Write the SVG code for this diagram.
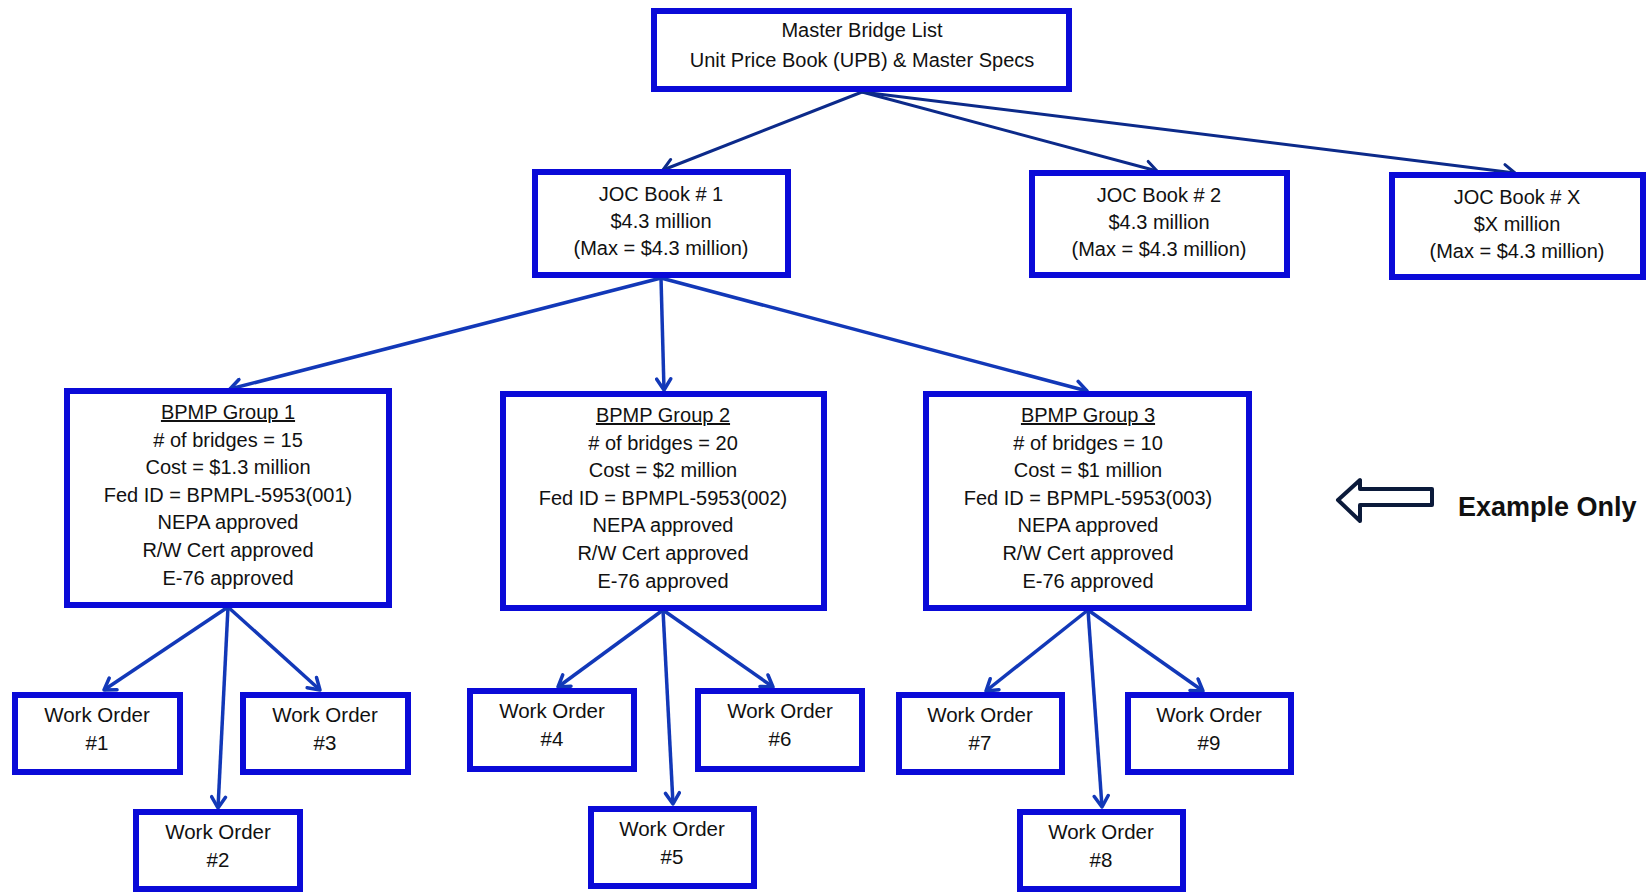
<svg xmlns="http://www.w3.org/2000/svg" width="1648" height="892" viewBox="0 0 1648 892">
<style>
.box{fill:#ffffff;stroke:#0a0ad8;stroke-width:6}
.t{font-family:"Liberation Sans",Arial,sans-serif;font-size:20px;fill:#111111;text-anchor:middle}
.wo{font-family:"Liberation Sans",Arial,sans-serif;font-size:20.5px;fill:#111111;text-anchor:middle}
.c1{fill:none;stroke:#0c2a8a;stroke-width:3;marker-end:url(#a1)}
.c2{fill:none;stroke:#1238b8;stroke-width:3.5;marker-end:url(#a2)}
</style>
<defs>
<marker id="a1" markerUnits="userSpaceOnUse" markerWidth="18" markerHeight="18" viewBox="0 0 18 18" refX="14" refY="9" orient="auto">
<path d="M3,2 L14,9 L3,16" fill="none" stroke="#0c2a8a" stroke-width="3" stroke-linecap="round" stroke-linejoin="round"/>
</marker>
<marker id="a2" markerUnits="userSpaceOnUse" markerWidth="18" markerHeight="18" viewBox="0 0 18 18" refX="14" refY="9" orient="auto">
<path d="M3,2 L14,9 L3,16" fill="none" stroke="#1238b8" stroke-width="3.5" stroke-linecap="round" stroke-linejoin="round"/>
</marker>
</defs>
<rect width="1648" height="892" fill="#ffffff"/>

<g id="connectors">
<path class="c1" d="M862,92 L663,170"/>
<path class="c1" d="M862,92 L1157,171"/>
<path class="c1" d="M862,92 L1515,173"/>
<path class="c2" d="M661,278 L230,389"/>
<path class="c2" d="M661,278 L664,390"/>
<path class="c2" d="M661,278 L1087,391"/>
<path class="c2" d="M228,607 L104,690"/>
<path class="c2" d="M228,607 L218,808"/>
<path class="c2" d="M228,607 L320,690"/>
<path class="c2" d="M663,610 L558,687"/>
<path class="c2" d="M663,610 L673,804"/>
<path class="c2" d="M663,610 L773,687"/>
<path class="c2" d="M1088,610 L986,691"/>
<path class="c2" d="M1088,610 L1102,807"/>
<path class="c2" d="M1088,610 L1203,691"/>
</g>

<g id="master">
<rect class="box" x="654" y="11" width="415" height="78"/>
<text class="t" x="862" y="37">Master Bridge List</text>
<text class="t" x="862" y="67">Unit Price Book (UPB) &amp; Master Specs</text>
</g>

<g id="joc1">
<rect class="box" x="535" y="172" width="253" height="103"/>
<text class="t" x="661" y="201">JOC Book # 1</text>
<text class="t" x="661" y="228">$4.3 million</text>
<text class="t" x="661" y="255">(Max = $4.3 million)</text>
</g>

<g id="joc2">
<rect class="box" x="1032" y="173" width="255" height="102"/>
<text class="t" x="1159" y="202">JOC Book # 2</text>
<text class="t" x="1159" y="229">$4.3 million</text>
<text class="t" x="1159" y="256">(Max = $4.3 million)</text>
</g>

<g id="jocx">
<rect class="box" x="1392" y="175" width="251" height="102"/>
<text class="t" x="1517" y="204">JOC Book # X</text>
<text class="t" x="1517" y="231">$X million</text>
<text class="t" x="1517" y="258">(Max = $4.3 million)</text>
</g>

<g id="bpmp1">
<rect class="box" x="67" y="391" width="322" height="214"/>
<text class="t" x="228" y="419" text-decoration="underline">BPMP Group 1</text>
<text class="t" x="228" y="447"># of bridges = 15</text>
<text class="t" x="228" y="474">Cost = $1.3 million</text>
<text class="t" x="228" y="502">Fed ID = BPMPL-5953(001)</text>
<text class="t" x="228" y="529">NEPA approved</text>
<text class="t" x="228" y="557">R/W Cert approved</text>
<text class="t" x="228" y="585">E-76 approved</text>
</g>

<g id="bpmp2">
<rect class="box" x="503" y="394" width="321" height="214"/>
<text class="t" x="663" y="422" text-decoration="underline">BPMP Group 2</text>
<text class="t" x="663" y="450"># of bridges = 20</text>
<text class="t" x="663" y="477">Cost = $2 million</text>
<text class="t" x="663" y="505">Fed ID = BPMPL-5953(002)</text>
<text class="t" x="663" y="532">NEPA approved</text>
<text class="t" x="663" y="560">R/W Cert approved</text>
<text class="t" x="663" y="588">E-76 approved</text>
</g>

<g id="bpmp3">
<rect class="box" x="926" y="394" width="323" height="214"/>
<text class="t" x="1088" y="422" text-decoration="underline">BPMP Group 3</text>
<text class="t" x="1088" y="450"># of bridges = 10</text>
<text class="t" x="1088" y="477">Cost = $1 million</text>
<text class="t" x="1088" y="505">Fed ID = BPMPL-5953(003)</text>
<text class="t" x="1088" y="532">NEPA approved</text>
<text class="t" x="1088" y="560">R/W Cert approved</text>
<text class="t" x="1088" y="588">E-76 approved</text>
</g>

<g id="wo1">
<rect class="box" x="15" y="695" width="165" height="77"/>
<text class="wo" x="97" y="722">Work Order</text>
<text class="wo" x="97" y="750">#1</text>
</g>
<g id="wo2">
<rect class="box" x="136" y="812" width="164" height="77"/>
<text class="wo" x="218" y="839">Work Order</text>
<text class="wo" x="218" y="867">#2</text>
</g>
<g id="wo3">
<rect class="box" x="243" y="695" width="165" height="77"/>
<text class="wo" x="325" y="722">Work Order</text>
<text class="wo" x="325" y="750">#3</text>
</g>
<g id="wo4">
<rect class="box" x="470" y="691" width="164" height="78"/>
<text class="wo" x="552" y="718">Work Order</text>
<text class="wo" x="552" y="746">#4</text>
</g>
<g id="wo5">
<rect class="box" x="591" y="809" width="163" height="77"/>
<text class="wo" x="672" y="836">Work Order</text>
<text class="wo" x="672" y="864">#5</text>
</g>
<g id="wo6">
<rect class="box" x="698" y="691" width="164" height="78"/>
<text class="wo" x="780" y="718">Work Order</text>
<text class="wo" x="780" y="746">#6</text>
</g>
<g id="wo7">
<rect class="box" x="899" y="695" width="163" height="77"/>
<text class="wo" x="980" y="722">Work Order</text>
<text class="wo" x="980" y="750">#7</text>
</g>
<g id="wo8">
<rect class="box" x="1020" y="812" width="163" height="77"/>
<text class="wo" x="1101" y="839">Work Order</text>
<text class="wo" x="1101" y="867">#8</text>
</g>
<g id="wo9">
<rect class="box" x="1128" y="695" width="163" height="77"/>
<text class="wo" x="1209" y="722">Work Order</text>
<text class="wo" x="1209" y="750">#9</text>
</g>

<g id="example-note">
<polygon points="1338,500 1360,480 1360,489 1432,489 1432,505 1360,505 1360,521" fill="#ffffff" stroke="#0b1a3a" stroke-width="4" stroke-linejoin="round"/>
<text x="1458" y="516" font-family="'Liberation Sans',Arial,sans-serif" font-size="27px" font-weight="bold" fill="#111111">Example Only</text>
</g>
</svg>
